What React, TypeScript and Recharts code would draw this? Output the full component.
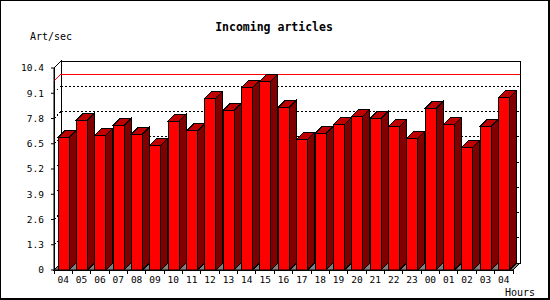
import React from "react";
import { BarChart, Bar, XAxis, YAxis, ReferenceArea, ReferenceLine } from "recharts";

const hours = [
  "04", "05", "06", "07", "08", "09", "10", "11", "12", "13", "14", "15", "16",
  "17", "18", "19", "20", "21", "22", "23", "00", "01", "02", "03", "04",
];
const artPerSec = [
  6.83, 7.72, 6.94, 7.45, 6.99, 6.42, 7.67, 7.16, 8.84, 8.22, 9.41, 9.73, 8.38,
  6.73, 7.04, 7.5, 7.91, 7.81, 7.4, 6.78, 8.33, 7.5, 6.32, 7.4, 8.89,
];
const yTicks = [0, 1.3, 2.6, 3.9, 5.2, 6.5, 7.8, 9.1, 10.4];
const gridTicks = [1.3, 2.6, 3.9, 5.2, 6.5, 7.8, 9.1];

const data = hours.map((hour, i) => ({ hour, rate: artPerSec[i] }));
const peak = Math.max(...artPerSec);

const DEPTH = 7;
const PLOT_W = 459;
const FONT = '"DejaVu Sans Mono", monospace';

// back wall, left wall and floor of the 3d box
const Backdrop = (p: any) => {
  const { x, y, width: w, height: h } = p;
  const d = DEPTH;
  return (
    <g shapeRendering="crispEdges">
      <polygon
        points={`${x},${y + h} ${x + w},${y + h} ${x + w + d},${y + h - d} ${x + d},${y + h - d}`}
        fill="#808080"
        stroke="#000"
      />
      <polygon
        points={`${x},${y} ${x + d},${y - d} ${x + d},${y + h - d} ${x},${y + h}`}
        fill="#fff"
        stroke="#000"
      />
      <rect x={x + d} y={y - d} width={w} height={h} fill="#fff" stroke="#000" />
    </g>
  );
};

const wallLine = (color: string, dash?: string) => (p: any) => {
  const { x1, y1, x2, y2 } = p;
  const d = DEPTH;
  return (
    <g shapeRendering="crispEdges">
      <line x1={x1} y1={y1} x2={x1 + d} y2={y1 - d} stroke={color} strokeDasharray={dash} />
      <line x1={x1 + d} y1={y1 - d} x2={x2 + d} y2={y2 - d} stroke={color} strokeDasharray={dash} />
    </g>
  );
};

const Bar3D = (p: any) => {
  const { x, y, width: w, height: h } = p;
  const d = DEPTH;
  return (
    <g shapeRendering="crispEdges">
      <polygon
        points={`${x + w},${y} ${x + w + d},${y - d} ${x + w + d},${y + h - d} ${x + w},${y + h}`}
        fill="#800000"
        stroke="#000"
      />
      <polygon
        points={`${x},${y} ${x + d},${y - d} ${x + w + d},${y - d} ${x + w},${y}`}
        fill="#c00000"
        stroke="#000"
      />
      <rect x={x} y={y} width={w} height={h} fill="#ff0000" stroke="#000" />
    </g>
  );
};

const HourTick = (p: any) => {
  const { x, y, payload, index } = p;
  const band = PLOT_W / hours.length;
  return (
    <g shapeRendering="crispEdges">
      <line x1={x - band / 2} y1={y} x2={x - band / 2} y2={y + 4} stroke="#000" />
      {index === hours.length - 1 && (
        <line x1={x + band / 2} y1={y} x2={x + band / 2} y2={y + 4} stroke="#000" />
      )}
      <text x={x} y={y + 10} dy="0.35em" textAnchor="middle" fontSize={9.5} fontFamily={FONT} fill="#000">
        {payload.value}
      </text>
    </g>
  );
};

export default function App() {
  return (
    <div style={{ position: "relative", width: 550, height: 300, background: "#fff" }}>
      <style>{`body{margin:0}`}</style>
      <BarChart
        width={550}
        height={300}
        data={data}
        margin={{ top: 68, right: 37, bottom: 0, left: 24 }}
      >
        <ReferenceArea y1={0} y2={10.4} shape={Backdrop} zIndex={-90} ifOverflow="visible" />
        {gridTicks.map((t) => (
          <ReferenceLine key={t} y={t} shape={wallLine("#000", "2 2")} zIndex={-80} />
        ))}
        <ReferenceLine y={peak} shape={wallLine("#ff0000")} zIndex={-70} />
        <XAxis
          dataKey="hour"
          interval={0}
          height={30}
          tickLine={false}
          tickSize={0}
          tickMargin={0}
          axisLine={{ stroke: "#000" }}
          tick={<HourTick />}
        />
        <YAxis
          width={30}
          domain={[0, 10.4]}
          ticks={yTicks}
          interval={0}
          tickSize={3}
          tickMargin={7}
          axisLine={{ stroke: "#000" }}
          tickLine={{ stroke: "#000" }}
          tick={{ fill: "#000", fontSize: 9.5, fontFamily: FONT }}
          tickFormatter={(v: number) => String(v)}
        />
        <Bar dataKey="rate" barSize={11} shape={Bar3D} isAnimationActive={false} />
      </BarChart>
      <div
        style={{
          position: "absolute", left: 0, top: 20, width: 548, textAlign: "center",
          fontFamily: FONT, fontWeight: "bold", fontSize: 11.5, lineHeight: "14px",
        }}
      >
        Incoming articles
      </div>
      <div style={{ position: "absolute", left: 30, top: 31, fontFamily: FONT, fontSize: 10, lineHeight: "12px" }}>
        Art/sec
      </div>
      <div style={{ position: "absolute", left: 505, top: 287, fontFamily: FONT, fontSize: 10, lineHeight: "12px" }}>
        Hours
      </div>
      <div
        style={{
          position: "absolute", inset: 0, boxSizing: "border-box", pointerEvents: "none",
          borderStyle: "solid", borderColor: "#000", borderWidth: "1px 2px 2px 1px",
        }}
      />
    </div>
  );
}
